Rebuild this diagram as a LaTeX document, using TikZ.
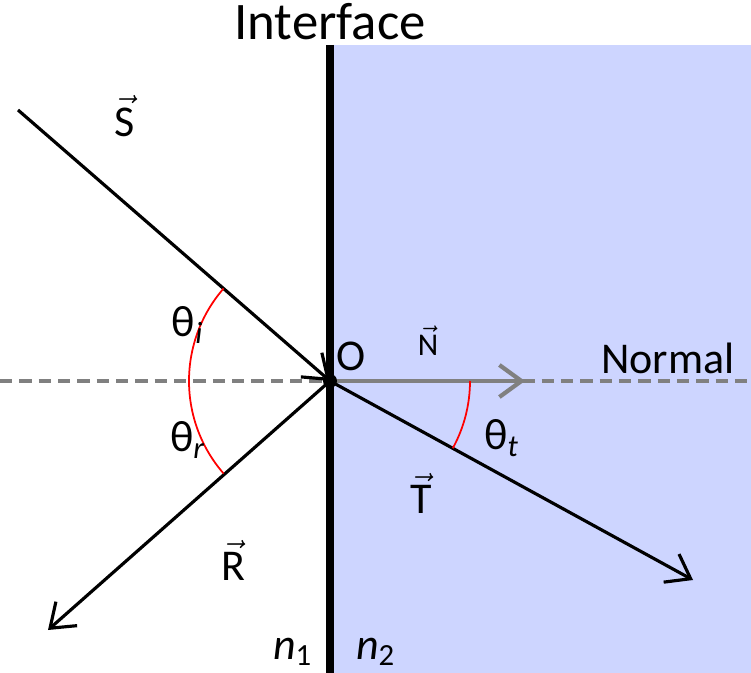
\documentclass[tikz,border=0pt]{standalone}
\usepackage{fontspec}
\setmainfont{Carlito}
\usetikzlibrary{arrows.meta}
\definecolor{medium}{RGB}{205,213,255}
\begin{document}
\begin{tikzpicture}[
            x = 0.01cm, y = -0.01cm, % pixel grid of the reference
            > = {Straight Barb[length=2.2mm,width=3.2mm]}, % arrow head style
            ray/.style = {draw = black, line width = 0.9pt, ->},
            angle/.style = {draw = red, line width = 0.5pt},
            lbl/.style = {font = \fontsize{12.5}{14}\selectfont, inner sep = 0pt}
        ]
        \useasboundingbox (0,0) rectangle (751,673);
        \fill[medium] (330,45) rectangle (751,673);

        \coordinate (O) at (330,381);
        \coordinate (s0) at (18,110);
        \coordinate (r1) at (48,630);
        \coordinate (t1) at (693,580);
        \coordinate (w) at (0,381);
        \coordinate (e) at (751,381);

        % normal
        \draw[gray, line width = 1.2pt, dash pattern = on 3.5pt off 2pt] (w) -- (e);
        \draw[gray, line width = 1.2pt, ->] (O) -- (525,381);

        % interface
        \draw[line width = 2.2pt] (330,45) -- (330,673);

        % rays
        \draw[ray] (s0) -- (O);
        \draw[ray] (O) -- (r1);
        \draw[ray] (O) -- (t1);
        \fill (O) circle (7);

        % angles
        \draw[angle] ([shift={(139:141)}]O) arc[start angle = 139, end angle = 221, radius = 141];
        \draw[angle] ([shift={(0:140)}]O) arc[start angle = 0, end angle = 28.7, radius = 140];

        % labels
        \node[font = \fontsize{15}{17}\selectfont, inner sep = 0pt] (iface) at (330,22) {Interface};
        \node[lbl] (S) at (125,116) {$\vec{\hbox{S}}$};
        \node[lbl] (thi) at (188,325) {θ\textsubscript{\textit{i}}};
        \node[lbl] (thr) at (188,440) {θ\textsubscript{\textit{r}}};
        \node[lbl] (R) at (233,560) {$\vec{\hbox{R}}$};
        \node[lbl] (T) at (421,493) {$\vec{\hbox{T}}$};
        \node[lbl] (tht) at (502,438) {θ\textsubscript{\textit{t}}};
        \node[lbl, font = \fontsize{9}{10}\selectfont] (N) at (428,341) {$\vec{\hbox{N}}$};
        \node[lbl] (O lbl) at (351,356) {O};
        \node[lbl] (norm) at (668,358) {Normal};
        \node[lbl] (n1) at (293,652) {\textit{n}\textsubscript{1}};
        \node[lbl] (n2) at (376,652) {\textit{n}\textsubscript{2}};
\end{tikzpicture}
\end{document}
